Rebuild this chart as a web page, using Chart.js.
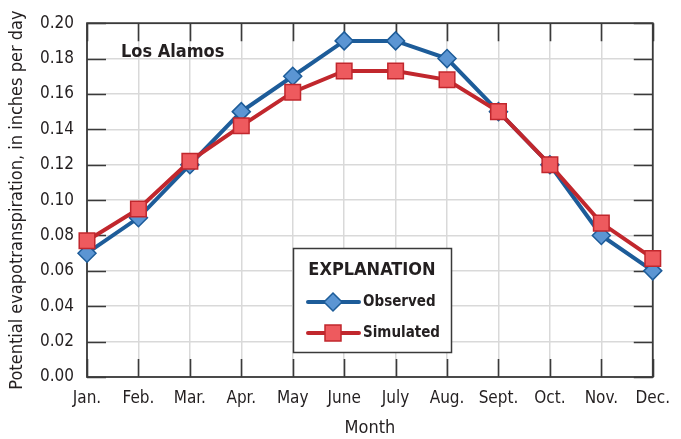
<!DOCTYPE html>
<html>
<head>
<meta charset="utf-8">
<script src="https://cdn.jsdelivr.net/npm/chart.js@4/dist/chart.umd.min.js"></script>
<style>
  html, body { margin: 0; padding: 0; background: #ffffff; }
  #wrap { width: 681px; height: 439px; position: relative; }
</style>
</head>
<body>
<div id="wrap"><canvas id="c" width="681" height="439"></canvas></div>
<script>
// Monthly potential evapotranspiration, Los Alamos (inches per day)
const months = ['Jan.', 'Feb.', 'Mar.', 'Apr.', 'May', 'June', 'July', 'Aug.', 'Sept.', 'Oct.', 'Nov.', 'Dec.'];
const observed = [0.070, 0.090, 0.120, 0.150, 0.170, 0.190, 0.190, 0.180, 0.150, 0.120, 0.080, 0.060];
const simulated = [0.077, 0.095, 0.122, 0.142, 0.161, 0.173, 0.173, 0.168, 0.150, 0.120, 0.087, 0.067];
const yTicks = [0, 0.02, 0.04, 0.06, 0.08, 0.10, 0.12, 0.14, 0.16, 0.18, 0.20];

const FONT = "'Liberation Sans Narrow', 'DejaVu Sans Condensed', 'Arial Narrow', sans-serif";
const INK = '#231f20';
const BLUE_LINE = '#1d5c99';
const BLUE_FILL = '#5b95d3';
const RED_LINE = '#c1272d';
const RED_FILL = '#ee5a5e';

// Inward tick marks on all four sides plus the dark frame
const frameTicks = {
  id: 'frameTicks',
  beforeDatasetsDraw(chart) {
    const { ctx, chartArea: a, scales } = chart;
    const ys = scales.y, xs = scales.x;
    ctx.save();
    ctx.strokeStyle = '#3a3a3a';
    ctx.lineWidth = 1.6;
    ctx.beginPath();
    yTicks.forEach(v => {
      const py = Math.round(ys.getPixelForValue(v)) + 0.5;
      ctx.moveTo(a.left, py); ctx.lineTo(a.left + 19, py);
      ctx.moveTo(a.right, py); ctx.lineTo(a.right - 19, py);
    });
    months.forEach((m, i) => {
      const px = Math.round(xs.getPixelForValue(i)) + 0.5;
      ctx.moveTo(px, a.top); ctx.lineTo(px, a.top + 18);
      ctx.moveTo(px, a.bottom); ctx.lineTo(px, a.bottom - 18);
    });
    ctx.stroke();
    ctx.lineWidth = 1.8;
    ctx.strokeRect(a.left, a.top, a.right - a.left, a.bottom - a.top);
    ctx.restore();
  }
};

// Site name and the explanation box
const annotations = {
  id: 'annotations',
  afterDatasetsDraw(chart) {
    const { ctx, chartArea: a } = chart;
    ctx.save();
    ctx.fillStyle = INK;
    ctx.font = `bold 18px ${FONT}`;
    ctx.textAlign = 'left';
    ctx.textBaseline = 'middle';
    ctx.fillText('Los Alamos', a.left + 34, 52);

    // explanation box
    const bx = 293, by = 248, bw = 158, bh = 104;
    ctx.fillStyle = '#ffffff';
    ctx.fillRect(bx, by, bw, bh);
    ctx.strokeStyle = '#3a3a3a';
    ctx.lineWidth = 1.5;
    ctx.strokeRect(bx + 0.5, by + 0.5, bw, bh);

    ctx.fillStyle = INK;
    ctx.font = `bold 18px ${FONT}`;
    ctx.textAlign = 'center';
    ctx.fillText('EXPLANATION', bx + bw / 2, by + 22);

    const rows = [
      { label: 'Observed', line: BLUE_LINE, fill: BLUE_FILL, shape: 'diamond', y: by + 54 },
      { label: 'Simulated', line: RED_LINE, fill: RED_FILL, shape: 'square', y: by + 85 }
    ];
    rows.forEach(r => {
      ctx.strokeStyle = r.line;
      ctx.lineWidth = 4;
      ctx.lineCap = 'round';
      ctx.beginPath();
      ctx.moveTo(bx + 15, r.y); ctx.lineTo(bx + 66, r.y);
      ctx.stroke();
      const cx = bx + 40;
      ctx.fillStyle = r.fill;
      ctx.lineWidth = 1.5;
      ctx.beginPath();
      if (r.shape === 'diamond') {
        ctx.moveTo(cx, r.y - 9); ctx.lineTo(cx + 9, r.y); ctx.lineTo(cx, r.y + 9); ctx.lineTo(cx - 9, r.y);
        ctx.closePath();
      } else {
        ctx.rect(cx - 8, r.y - 8, 16, 16);
      }
      ctx.fill();
      ctx.stroke();
      ctx.fillStyle = INK;
      ctx.font = `bold 15px ${FONT}`;
      ctx.textAlign = 'left';
      ctx.fillText(r.label, bx + 70, r.y);
    });
    ctx.restore();
  }
};

new Chart(document.getElementById('c'), {
  type: 'line',
  data: {
    labels: months,
    datasets: [
      {
        label: 'Observed',
        data: observed,
        order: 1,
        borderColor: BLUE_LINE,
        borderWidth: 4,
        backgroundColor: BLUE_FILL,
        pointStyle: 'rectRot',
        pointRadius: 9,
        pointBorderWidth: 1.5,
        pointBorderColor: BLUE_LINE,
        pointBackgroundColor: BLUE_FILL,
        tension: 0,
        clip: false
      },
      {
        label: 'Simulated',
        data: simulated,
        order: 0,
        borderColor: RED_LINE,
        borderWidth: 4,
        backgroundColor: RED_FILL,
        pointStyle: 'rect',
        pointRadius: 11,
        pointBorderWidth: 1.5,
        pointBorderColor: RED_LINE,
        pointBackgroundColor: RED_FILL,
        tension: 0,
        clip: false
      }
    ]
  },
  options: {
    responsive: false,
    animation: false,
    events: [],
    layout: { padding: { left: 0, right: 25, top: 17, bottom: 0 } },
    plugins: {
      legend: { display: false },
      tooltip: { enabled: false },
      title: { display: false }
    },
    scales: {
      x: {
        type: 'category',
        offset: false,
        border: { display: false },
        grid: { color: '#d9d9d9', lineWidth: 1.5, drawTicks: false },
        ticks: {
          color: INK,
          font: { family: FONT, size: 17 },
          padding: 11,
          maxRotation: 0,
          autoSkip: false
        },
        title: {
          display: true,
          text: 'Month',
          color: INK,
          font: { family: FONT, size: 18 },
          padding: { top: 2, bottom: 0 }
        },
        afterFit(scale) { scale.height = 62; }
      },
      y: {
        min: 0,
        max: 0.2,
        border: { display: false },
        grid: { color: '#d9d9d9', lineWidth: 1.5, drawTicks: false },
        afterBuildTicks(scale) { scale.ticks = yTicks.map(v => ({ value: v })); },
        ticks: {
          color: INK,
          font: { family: FONT, size: 17 },
          padding: 13,
          callback: v => Number(v).toFixed(2)
        },
        title: {
          display: true,
          text: 'Potential evapotranspiration, in inches per day',
          color: INK,
          font: { family: FONT, size: 18 },
          padding: { top: 7, bottom: 0 }
        },
        afterFit(scale) { scale.width = 87; }
      }
    }
  },
  plugins: [frameTicks, annotations]
});
</script>
</body>
</html>
